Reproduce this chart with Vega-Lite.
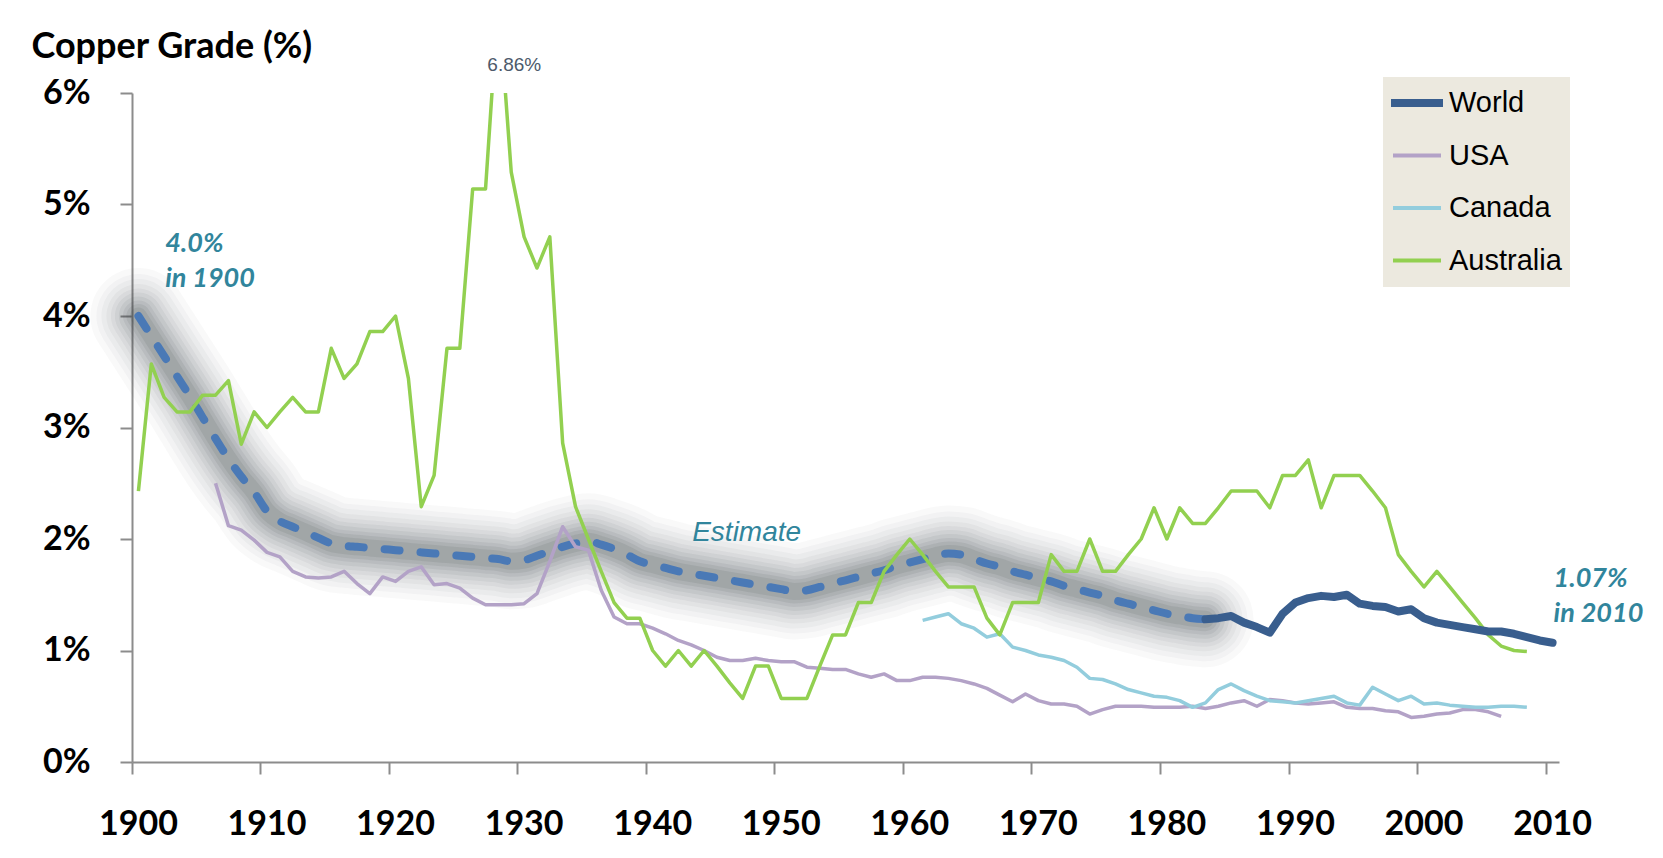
{
  "$schema": "https://vega.github.io/schema/vega-lite/v6.json",
  "width": 1427,
  "height": 669,
  "autosize": {"type": "none"},
  "padding": {"left": 132, "top": 93, "right": 104, "bottom": 96},
  "background": "white",
  "view": {"stroke": null},
  "datasets": {
    "est": [
      {"year":1900,"value":4.00},{"year":1901,"value":3.82},{"year":1902,"value":3.64},{"year":1903,"value":3.46},{"year":1904,"value":3.28},
      {"year":1905,"value":3.09},{"year":1906,"value":2.90},{"year":1907,"value":2.72},{"year":1908,"value":2.56},{"year":1909,"value":2.42},
      {"year":1910,"value":2.25},{"year":1911,"value":2.16},{"year":1912,"value":2.11},{"year":1913,"value":2.06},{"year":1914,"value":2.01},
      {"year":1915,"value":1.96},{"year":1916,"value":1.94},{"year":1917,"value":1.93},{"year":1918,"value":1.92},{"year":1919,"value":1.91},
      {"year":1920,"value":1.90},{"year":1921,"value":1.89},{"year":1922,"value":1.88},{"year":1923,"value":1.87},{"year":1924,"value":1.86},
      {"year":1925,"value":1.85},{"year":1926,"value":1.84},{"year":1927,"value":1.83},{"year":1928,"value":1.82},{"year":1929,"value":1.80},
      {"year":1930,"value":1.81},{"year":1931,"value":1.85},{"year":1932,"value":1.89},{"year":1933,"value":1.93},{"year":1934,"value":1.96},
      {"year":1935,"value":1.98},{"year":1936,"value":1.95},{"year":1937,"value":1.91},{"year":1938,"value":1.86},{"year":1939,"value":1.80},
      {"year":1940,"value":1.77},{"year":1941,"value":1.74},{"year":1942,"value":1.71},{"year":1943,"value":1.69},{"year":1944,"value":1.67},
      {"year":1945,"value":1.65},{"year":1946,"value":1.63},{"year":1947,"value":1.61},{"year":1948,"value":1.59},{"year":1949,"value":1.57},
      {"year":1950,"value":1.55},{"year":1951,"value":1.53},{"year":1952,"value":1.54},{"year":1953,"value":1.57},{"year":1954,"value":1.60},
      {"year":1955,"value":1.63},{"year":1956,"value":1.66},{"year":1957,"value":1.69},{"year":1958,"value":1.72},{"year":1959,"value":1.76},
      {"year":1960,"value":1.79},{"year":1961,"value":1.82},{"year":1962,"value":1.85},{"year":1963,"value":1.87},{"year":1964,"value":1.86},
      {"year":1965,"value":1.82},{"year":1966,"value":1.78},{"year":1967,"value":1.75},{"year":1968,"value":1.71},{"year":1969,"value":1.68},
      {"year":1970,"value":1.65},{"year":1971,"value":1.62},{"year":1972,"value":1.58},{"year":1973,"value":1.55},{"year":1974,"value":1.52},
      {"year":1975,"value":1.49},{"year":1976,"value":1.45},{"year":1977,"value":1.42},{"year":1978,"value":1.39},{"year":1979,"value":1.36},
      {"year":1980,"value":1.33},{"year":1981,"value":1.31},{"year":1982,"value":1.29},{"year":1983,"value":1.28}
    ],
    "series": [
      {"series":"World","year":1983,"value":1.28},{"series":"World","year":1984,"value":1.29},{"series":"World","year":1985,"value":1.31},
      {"series":"World","year":1986,"value":1.25},{"series":"World","year":1987,"value":1.21},{"series":"World","year":1988,"value":1.16},
      {"series":"World","year":1989,"value":1.33},{"series":"World","year":1990,"value":1.43},{"series":"World","year":1991,"value":1.47},
      {"series":"World","year":1992,"value":1.49},{"series":"World","year":1993,"value":1.48},{"series":"World","year":1994,"value":1.50},
      {"series":"World","year":1995,"value":1.42},{"series":"World","year":1996,"value":1.40},{"series":"World","year":1997,"value":1.39},
      {"series":"World","year":1998,"value":1.35},{"series":"World","year":1999,"value":1.37},{"series":"World","year":2000,"value":1.29},
      {"series":"World","year":2001,"value":1.25},{"series":"World","year":2002,"value":1.23},{"series":"World","year":2003,"value":1.21},
      {"series":"World","year":2004,"value":1.19},{"series":"World","year":2005,"value":1.17},{"series":"World","year":2006,"value":1.17},
      {"series":"World","year":2007,"value":1.15},{"series":"World","year":2008,"value":1.12},{"series":"World","year":2009,"value":1.09},
      {"series":"World","year":2010,"value":1.07},

      {"series":"USA","year":1906,"value":2.50},{"series":"USA","year":1907,"value":2.12},{"series":"USA","year":1908,"value":2.08},
      {"series":"USA","year":1909,"value":1.99},{"series":"USA","year":1910,"value":1.88},{"series":"USA","year":1911,"value":1.84},
      {"series":"USA","year":1912,"value":1.71},{"series":"USA","year":1913,"value":1.66},{"series":"USA","year":1914,"value":1.65},
      {"series":"USA","year":1915,"value":1.66},{"series":"USA","year":1916,"value":1.71},{"series":"USA","year":1917,"value":1.60},
      {"series":"USA","year":1918,"value":1.51},{"series":"USA","year":1919,"value":1.66},{"series":"USA","year":1920,"value":1.62},
      {"series":"USA","year":1921,"value":1.71},{"series":"USA","year":1922,"value":1.75},{"series":"USA","year":1923,"value":1.59},
      {"series":"USA","year":1924,"value":1.60},{"series":"USA","year":1925,"value":1.56},{"series":"USA","year":1926,"value":1.47},
      {"series":"USA","year":1927,"value":1.41},{"series":"USA","year":1928,"value":1.41},{"series":"USA","year":1929,"value":1.41},
      {"series":"USA","year":1930,"value":1.42},{"series":"USA","year":1931,"value":1.51},{"series":"USA","year":1932,"value":1.80},
      {"series":"USA","year":1933,"value":2.11},{"series":"USA","year":1934,"value":1.93},{"series":"USA","year":1935,"value":1.90},
      {"series":"USA","year":1936,"value":1.54},{"series":"USA","year":1937,"value":1.30},{"series":"USA","year":1938,"value":1.24},
      {"series":"USA","year":1939,"value":1.24},{"series":"USA","year":1940,"value":1.20},{"series":"USA","year":1941,"value":1.15},
      {"series":"USA","year":1942,"value":1.09},{"series":"USA","year":1943,"value":1.05},{"series":"USA","year":1944,"value":1.00},
      {"series":"USA","year":1945,"value":0.94},{"series":"USA","year":1946,"value":0.91},{"series":"USA","year":1947,"value":0.91},
      {"series":"USA","year":1948,"value":0.93},{"series":"USA","year":1949,"value":0.91},{"series":"USA","year":1950,"value":0.90},
      {"series":"USA","year":1951,"value":0.90},{"series":"USA","year":1952,"value":0.85},{"series":"USA","year":1953,"value":0.84},
      {"series":"USA","year":1954,"value":0.83},{"series":"USA","year":1955,"value":0.83},{"series":"USA","year":1956,"value":0.79},
      {"series":"USA","year":1957,"value":0.76},{"series":"USA","year":1958,"value":0.79},{"series":"USA","year":1959,"value":0.73},
      {"series":"USA","year":1960,"value":0.73},{"series":"USA","year":1961,"value":0.76},{"series":"USA","year":1962,"value":0.76},
      {"series":"USA","year":1963,"value":0.75},{"series":"USA","year":1964,"value":0.73},{"series":"USA","year":1965,"value":0.70},
      {"series":"USA","year":1966,"value":0.66},{"series":"USA","year":1967,"value":0.60},{"series":"USA","year":1968,"value":0.54},
      {"series":"USA","year":1969,"value":0.61},{"series":"USA","year":1970,"value":0.55},{"series":"USA","year":1971,"value":0.52},
      {"series":"USA","year":1972,"value":0.52},{"series":"USA","year":1973,"value":0.50},{"series":"USA","year":1974,"value":0.43},
      {"series":"USA","year":1975,"value":0.47},{"series":"USA","year":1976,"value":0.50},{"series":"USA","year":1977,"value":0.50},
      {"series":"USA","year":1978,"value":0.50},{"series":"USA","year":1979,"value":0.49},{"series":"USA","year":1980,"value":0.49},
      {"series":"USA","year":1981,"value":0.49},{"series":"USA","year":1982,"value":0.50},{"series":"USA","year":1983,"value":0.48},
      {"series":"USA","year":1984,"value":0.50},{"series":"USA","year":1985,"value":0.53},{"series":"USA","year":1986,"value":0.55},
      {"series":"USA","year":1987,"value":0.50},{"series":"USA","year":1988,"value":0.56},{"series":"USA","year":1989,"value":0.55},
      {"series":"USA","year":1990,"value":0.53},{"series":"USA","year":1991,"value":0.52},{"series":"USA","year":1992,"value":0.53},
      {"series":"USA","year":1993,"value":0.54},{"series":"USA","year":1994,"value":0.49},{"series":"USA","year":1995,"value":0.48},
      {"series":"USA","year":1996,"value":0.48},{"series":"USA","year":1997,"value":0.46},{"series":"USA","year":1998,"value":0.45},
      {"series":"USA","year":1999,"value":0.40},{"series":"USA","year":2000,"value":0.41},{"series":"USA","year":2001,"value":0.43},
      {"series":"USA","year":2002,"value":0.44},{"series":"USA","year":2003,"value":0.47},{"series":"USA","year":2004,"value":0.47},
      {"series":"USA","year":2005,"value":0.45},{"series":"USA","year":2006,"value":0.41},

      {"series":"Canada","year":1961,"value":1.27},{"series":"Canada","year":1962,"value":1.30},{"series":"Canada","year":1963,"value":1.33},
      {"series":"Canada","year":1964,"value":1.24},{"series":"Canada","year":1965,"value":1.20},{"series":"Canada","year":1966,"value":1.12},
      {"series":"Canada","year":1967,"value":1.15},{"series":"Canada","year":1968,"value":1.03},{"series":"Canada","year":1969,"value":1.00},
      {"series":"Canada","year":1970,"value":0.96},{"series":"Canada","year":1971,"value":0.94},{"series":"Canada","year":1972,"value":0.91},
      {"series":"Canada","year":1973,"value":0.85},{"series":"Canada","year":1974,"value":0.75},{"series":"Canada","year":1975,"value":0.74},
      {"series":"Canada","year":1976,"value":0.70},{"series":"Canada","year":1977,"value":0.65},{"series":"Canada","year":1978,"value":0.62},
      {"series":"Canada","year":1979,"value":0.59},{"series":"Canada","year":1980,"value":0.58},{"series":"Canada","year":1981,"value":0.55},
      {"series":"Canada","year":1982,"value":0.49},{"series":"Canada","year":1983,"value":0.53},{"series":"Canada","year":1984,"value":0.65},
      {"series":"Canada","year":1985,"value":0.70},{"series":"Canada","year":1986,"value":0.64},{"series":"Canada","year":1987,"value":0.59},
      {"series":"Canada","year":1988,"value":0.55},{"series":"Canada","year":1989,"value":0.54},{"series":"Canada","year":1990,"value":0.53},
      {"series":"Canada","year":1991,"value":0.55},{"series":"Canada","year":1992,"value":0.57},{"series":"Canada","year":1993,"value":0.59},
      {"series":"Canada","year":1994,"value":0.53},{"series":"Canada","year":1995,"value":0.51},{"series":"Canada","year":1996,"value":0.67},
      {"series":"Canada","year":1997,"value":0.61},{"series":"Canada","year":1998,"value":0.55},{"series":"Canada","year":1999,"value":0.59},
      {"series":"Canada","year":2000,"value":0.52},{"series":"Canada","year":2001,"value":0.53},{"series":"Canada","year":2002,"value":0.51},
      {"series":"Canada","year":2003,"value":0.50},{"series":"Canada","year":2004,"value":0.49},{"series":"Canada","year":2005,"value":0.49},
      {"series":"Canada","year":2006,"value":0.50},{"series":"Canada","year":2007,"value":0.50},{"series":"Canada","year":2008,"value":0.49},

      {"series":"Australia","year":1900,"value":2.43},{"series":"Australia","year":1901,"value":3.57},{"series":"Australia","year":1902,"value":3.27},
      {"series":"Australia","year":1903,"value":3.14},{"series":"Australia","year":1904,"value":3.14},{"series":"Australia","year":1905,"value":3.29},
      {"series":"Australia","year":1906,"value":3.29},{"series":"Australia","year":1907,"value":3.42},{"series":"Australia","year":1908,"value":2.85},
      {"series":"Australia","year":1909,"value":3.14},{"series":"Australia","year":1910,"value":3.00},{"series":"Australia","year":1911,"value":3.14},
      {"series":"Australia","year":1912,"value":3.27},{"series":"Australia","year":1913,"value":3.14},{"series":"Australia","year":1914,"value":3.14},
      {"series":"Australia","year":1915,"value":3.71},{"series":"Australia","year":1916,"value":3.44},{"series":"Australia","year":1917,"value":3.57},
      {"series":"Australia","year":1918,"value":3.86},{"series":"Australia","year":1919,"value":3.86},{"series":"Australia","year":1920,"value":4.00},
      {"series":"Australia","year":1921,"value":3.44},{"series":"Australia","year":1922,"value":2.29},{"series":"Australia","year":1923,"value":2.57},
      {"series":"Australia","year":1924,"value":3.71},{"series":"Australia","year":1925,"value":3.71},{"series":"Australia","year":1926,"value":5.14},
      {"series":"Australia","year":1927,"value":5.14},{"series":"Australia","year":1928,"value":6.86},{"series":"Australia","year":1929,"value":5.29},
      {"series":"Australia","year":1930,"value":4.71},{"series":"Australia","year":1931,"value":4.43},{"series":"Australia","year":1932,"value":4.71},
      {"series":"Australia","year":1933,"value":2.86},{"series":"Australia","year":1934,"value":2.29},{"series":"Australia","year":1935,"value":2.00},
      {"series":"Australia","year":1936,"value":1.71},{"series":"Australia","year":1937,"value":1.43},{"series":"Australia","year":1938,"value":1.29},
      {"series":"Australia","year":1939,"value":1.29},{"series":"Australia","year":1940,"value":1.00},{"series":"Australia","year":1941,"value":0.86},
      {"series":"Australia","year":1942,"value":1.00},{"series":"Australia","year":1943,"value":0.86},{"series":"Australia","year":1944,"value":1.00},
      {"series":"Australia","year":1945,"value":0.86},{"series":"Australia","year":1946,"value":0.71},{"series":"Australia","year":1947,"value":0.57},
      {"series":"Australia","year":1948,"value":0.86},{"series":"Australia","year":1949,"value":0.86},{"series":"Australia","year":1950,"value":0.57},
      {"series":"Australia","year":1951,"value":0.57},{"series":"Australia","year":1952,"value":0.57},{"series":"Australia","year":1953,"value":0.86},
      {"series":"Australia","year":1954,"value":1.14},{"series":"Australia","year":1955,"value":1.14},{"series":"Australia","year":1956,"value":1.43},
      {"series":"Australia","year":1957,"value":1.43},{"series":"Australia","year":1958,"value":1.71},{"series":"Australia","year":1959,"value":1.86},
      {"series":"Australia","year":1960,"value":2.00},{"series":"Australia","year":1961,"value":1.86},{"series":"Australia","year":1962,"value":1.71},
      {"series":"Australia","year":1963,"value":1.57},{"series":"Australia","year":1964,"value":1.57},{"series":"Australia","year":1965,"value":1.57},
      {"series":"Australia","year":1966,"value":1.29},{"series":"Australia","year":1967,"value":1.14},{"series":"Australia","year":1968,"value":1.43},
      {"series":"Australia","year":1969,"value":1.43},{"series":"Australia","year":1970,"value":1.43},{"series":"Australia","year":1971,"value":1.86},
      {"series":"Australia","year":1972,"value":1.71},{"series":"Australia","year":1973,"value":1.71},{"series":"Australia","year":1974,"value":2.00},
      {"series":"Australia","year":1975,"value":1.71},{"series":"Australia","year":1976,"value":1.71},{"series":"Australia","year":1977,"value":1.86},
      {"series":"Australia","year":1978,"value":2.00},{"series":"Australia","year":1979,"value":2.28},{"series":"Australia","year":1980,"value":2.00},
      {"series":"Australia","year":1981,"value":2.28},{"series":"Australia","year":1982,"value":2.14},{"series":"Australia","year":1983,"value":2.14},
      {"series":"Australia","year":1984,"value":2.28},{"series":"Australia","year":1985,"value":2.43},{"series":"Australia","year":1986,"value":2.43},
      {"series":"Australia","year":1987,"value":2.43},{"series":"Australia","year":1988,"value":2.28},{"series":"Australia","year":1989,"value":2.57},
      {"series":"Australia","year":1990,"value":2.57},{"series":"Australia","year":1991,"value":2.71},{"series":"Australia","year":1992,"value":2.28},
      {"series":"Australia","year":1993,"value":2.57},{"series":"Australia","year":1994,"value":2.57},{"series":"Australia","year":1995,"value":2.57},
      {"series":"Australia","year":1996,"value":2.43},{"series":"Australia","year":1997,"value":2.28},{"series":"Australia","year":1998,"value":1.86},
      {"series":"Australia","year":1999,"value":1.71},{"series":"Australia","year":2000,"value":1.57},{"series":"Australia","year":2001,"value":1.71},
      {"series":"Australia","year":2002,"value":1.57},{"series":"Australia","year":2003,"value":1.43},{"series":"Australia","year":2004,"value":1.29},
      {"series":"Australia","year":2005,"value":1.14},{"series":"Australia","year":2006,"value":1.04},{"series":"Australia","year":2007,"value":1.00},
      {"series":"Australia","year":2008,"value":0.99}
    ],
    "peak": [{"year":1929,"value":6.25,"label":"6.86%"}],
    "ends": [
      {"year":1902,"value":4.65,"label":"4.0%\nin 1900"},
      {"year":2010,"value":1.64,"label":"1.07%\nin 2010"}
    ],
    "estlabel": [{"year":1947,"value":2.05,"label":"Estimate"}]
  },
  "encoding": {
    "x": {
      "field": "year", "type": "ordinal", "bandPosition": 0.5,
      "scale": {"type": "band", "paddingInner": 0, "paddingOuter": 0},
      "axis": {
        "values": [1900,1910,1920,1930,1940,1950,1960,1970,1980,1990,2000,2010],
        "bandPosition": 0, "title": null, "grid": false, "labelAngle": 0,
        "labelFont": "Lato", "labelFontWeight": "bold", "labelFontSize": 34, "labelColor": "#000000",
        "labelPadding": 33, "tickSize": 12, "tickColor": "#8c8c8c", "tickWidth": 2,
        "domainColor": "#8c8c8c", "domainWidth": 2
      }
    },
    "y": {
      "field": "value", "type": "quantitative",
      "scale": {"domain": [0, 6], "nice": false, "zero": true},
      "axis": {
        "values": [0,1,2,3,4,5,6], "labelExpr": "datum.value + '%'", "grid": false,
        "title": "Copper Grade (%)", "titleAngle": 0, "titleAlign": "left", "titleBaseline": "middle",
        "titleX": -101, "titleY": -47, "titleFont": "Lato", "titleFontSize": 36, "titleFontWeight": "bold", "titleColor": "#000000",
        "labelFont": "Lato", "labelFontWeight": "bold", "labelFontSize": 34, "labelColor": "#000000",
        "labelPadding": 30, "tickSize": 12, "tickColor": "#8c8c8c", "tickWidth": 2,
        "domainColor": "#8c8c8c", "domainWidth": 2
      }
    }
  },
  "layer": [
    {"data": {"name": "est"}, "mark": {"type": "line", "color": "#3a4048", "opacity": 0.03, "strokeWidth": 96, "strokeCap": "round", "strokeJoin": "round", "interpolate": "monotone"}},
    {"data": {"name": "est"}, "mark": {"type": "line", "color": "#3a4048", "opacity": 0.035, "strokeWidth": 84, "strokeCap": "round", "strokeJoin": "round", "interpolate": "monotone"}},
    {"data": {"name": "est"}, "mark": {"type": "line", "color": "#3a4048", "opacity": 0.04, "strokeWidth": 74, "strokeCap": "round", "strokeJoin": "round", "interpolate": "monotone"}},
    {"data": {"name": "est"}, "mark": {"type": "line", "color": "#3a4048", "opacity": 0.045, "strokeWidth": 64, "strokeCap": "round", "strokeJoin": "round", "interpolate": "monotone"}},
    {"data": {"name": "est"}, "mark": {"type": "line", "color": "#3a4048", "opacity": 0.05, "strokeWidth": 55, "strokeCap": "round", "strokeJoin": "round", "interpolate": "monotone"}},
    {"data": {"name": "est"}, "mark": {"type": "line", "color": "#3a4048", "opacity": 0.06, "strokeWidth": 47, "strokeCap": "round", "strokeJoin": "round", "interpolate": "monotone"}},
    {"data": {"name": "est"}, "mark": {"type": "line", "color": "#3a4048", "opacity": 0.07, "strokeWidth": 39, "strokeCap": "round", "strokeJoin": "round", "interpolate": "monotone"}},
    {"data": {"name": "est"}, "mark": {"type": "line", "color": "#3a4048", "opacity": 0.08, "strokeWidth": 31, "strokeCap": "round", "strokeJoin": "round", "interpolate": "monotone"}},
    {"data": {"name": "est"}, "mark": {"type": "line", "color": "#3a4048", "opacity": 0.09, "strokeWidth": 24, "strokeCap": "round", "strokeJoin": "round", "interpolate": "monotone"}},
    {"data": {"name": "est"}, "mark": {"type": "line", "color": "#3a4048", "opacity": 0.1, "strokeWidth": 17, "strokeCap": "round", "strokeJoin": "round", "interpolate": "monotone"}},
    {"data": {"name": "est"}, "mark": {"type": "line", "color": "#4a79b6", "strokeWidth": 8, "strokeDash": [15, 21], "strokeCap": "round", "interpolate": "monotone"}},
    {
      "data": {"name": "series"},
      "transform": [{"filter": "datum.series !== 'World'"}],
      "mark": {"type": "line", "clip": true, "strokeJoin": "round", "strokeWidth": 3.5},
      "encoding": {
        "color": {
          "field": "series", "type": "nominal",
          "scale": {"domain": ["World", "USA", "Canada", "Australia"], "range": ["#395e8e", "#b3a2c7", "#93cddd", "#92d050"]},
          "legend": {
            "orient": "none", "legendX": 1251, "legendY": -16, "title": null,
            "fillColor": "#ece9df", "padding": 8,
            "symbolType": {"expr": "datum.value === 'World' ? 'M-1,-0.08H1V0.08H-1Z' : 'stroke'"},
            "symbolSize": 2304, "symbolStrokeWidth": 4,
            "clipHeight": 36, "rowPadding": 16.5, "labelOffset": 6,
            "labelFont": "Liberation Sans", "labelFontSize": 29, "labelColor": "#000000"
          }
        }
      }
    },
    {
      "data": {"name": "series"},
      "transform": [{"filter": "datum.series === 'World'"}],
      "mark": {"type": "line", "strokeCap": "round", "strokeJoin": "round", "strokeWidth": 8},
      "encoding": {
        "color": {"field": "series", "type": "nominal"}
      }
    },
    {
      "data": {"name": "peak"},
      "mark": {"type": "text", "align": "center", "baseline": "middle", "dx": 3, "font": "Liberation Sans", "fontSize": 19, "color": "#4d5a6b"},
      "encoding": {"text": {"field": "label"}}
    },
    {
      "data": {"name": "ends"},
      "mark": {"type": "text", "align": "left", "baseline": "middle", "dx": 1, "lineBreak": "\n", "lineHeight": 35, "font": "Lato", "fontSize": 27, "fontWeight": "bold", "fontStyle": "italic", "color": "#31859c"},
      "encoding": {"text": {"field": "label"}}
    },
    {
      "data": {"name": "estlabel"},
      "mark": {"type": "text", "align": "center", "baseline": "middle", "dx": 4, "font": "Liberation Sans", "fontSize": 28, "fontStyle": "italic", "color": "#31859c"},
      "encoding": {"text": {"field": "label"}}
    }
  ]
}
